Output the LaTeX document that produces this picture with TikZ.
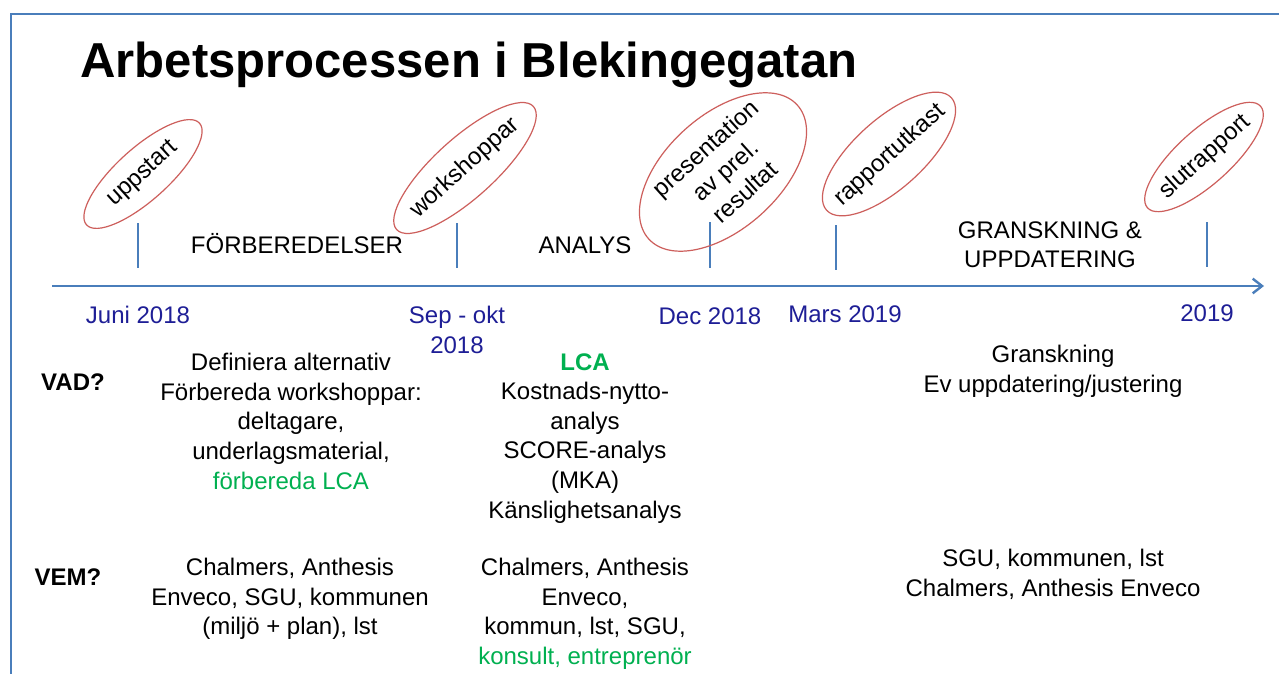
\documentclass[tikz,border=0pt]{standalone}
\usepackage{fontspec}
\setmainfont{Liberation Sans}
\usetikzlibrary{shapes.geometric,arrows.meta}
\definecolor{axisblue}{RGB}{74,126,187}
\definecolor{datenavy}{RGB}{30,30,150}
\definecolor{lcagreen}{RGB}{0,176,80}
\definecolor{ovalred}{RGB}{205,95,92}
\begin{document}
\begin{tikzpicture}[x=0.75pt,y=-0.75pt,
  txt/.style={font=\fontsize{18}{22.2}\selectfont, inner sep=0, align=center},
  datetxt/.style={txt, text=datenavy},
  headtxt/.style={font=\bfseries\fontsize{18}{22.2}\selectfont, inner sep=0},
  ovalshape/.style={ellipse, draw=ovalred, line width=0.9pt, inner sep=0, rotate=42},
  ovaltext/.style={txt, rotate=42},
  tickline/.style={draw=axisblue, line width=1.6pt},
  axisline/.style={draw=axisblue, line width=2.1pt,
    -{Straight Barb[length=7pt,width=11pt,line width=1.8pt]}},
  frameline/.style={draw=axisblue, line width=1.5pt}]
\useasboundingbox (0,0) rectangle (1279,674);
\clip (0,0) rectangle (1279,674);
\fill[white] (0,0) rectangle (1279,674);
% frame
\draw[frameline] (11,700) -- (11,14) -- (1300,14);
% title
\node[anchor=base west, inner sep=0, font=\bfseries\fontsize{36.8}{40}\selectfont] (title) at (80,78) {Arbetsprocessen i Blekingegatan};
% axis
\coordinate (axstart) at (52,286);
\coordinate (axend) at (1264,286);
\draw[axisline] (axstart) -- (axend);
% ticks
\foreach \n/\x/\ya/\yb in {t1/138/223/268, t2/457/223/268, t3/710/222/268, t4/836/225/270, t5/1207/222/267}{
  \coordinate (\n a) at (\x,\ya);
  \coordinate (\n b) at (\x,\yb);
  \draw[tickline] (\n a) -- (\n b);
}
% milestone ovals
\node[ovalshape, minimum width=114pt, minimum height=39pt] (uppstartoval) at (143,174) {};
\node[ovaltext] (uppstart) at (143,174) {uppstart};
\node[ovalshape, minimum width=138pt, minimum height=45pt] (workshopoval) at (465,168) {};
\node[ovaltext] (workshop) at (465,168) {workshoppar};
\node[ovalshape, minimum width=150pt, minimum height=85.5pt] (presentoval) at (723,172) {};
\node[ovaltext] (present) at (725,170) {presentation\\av prel.\\resultat};
\node[ovalshape, minimum width=126pt, minimum height=52pt] (rapportoval) at (889,154) {};
\node[ovaltext] (rapport) at (890,155) {rapportutkast};
\node[ovalshape, minimum width=114pt, minimum height=40.5pt] (slutoval) at (1204,157) {};
\node[ovaltext] (slut) at (1205,157) {slutrapport};
% phases
\node[txt, anchor=base] (forb) at (297,253) {FÖRBEREDELSER};
\node[txt, anchor=base] (analys) at (585,253) {ANALYS};
\node[txt, anchor=north] (gransk) at (1050,221) {GRANSKNING \&\\UPPDATERING};
% dates
\node[datetxt, anchor=base] (d1) at (138,323) {Juni 2018};
\node[datetxt, anchor=north] (d2) at (457,306) {Sep - okt\\2018};
\node[datetxt, anchor=base] (d3) at (710,324) {Dec 2018};
\node[datetxt, anchor=base] (d4) at (845,322) {Mars 2019};
\node[datetxt, anchor=base] (d5) at (1207,321) {2019};
% row heads
\node[headtxt, anchor=base] (vad) at (73,390) {VAD?};
\node[headtxt, anchor=base] (vem) at (68,585) {VEM?};
% VAD contents
\node[txt, anchor=north] (vad1) at (291,353) {Definiera alternativ\\Förbereda workshoppar:\\deltagare,\\underlagsmaterial,\\\textcolor{lcagreen}{förbereda LCA}};
\node[txt, anchor=north] (vad2) at (585,353) {\textcolor{lcagreen}{\bfseries LCA}\\Kostnads-nytto-\\analys\\SCORE-analys\\(MKA)\\Känslighetsanalys};
\node[txt, anchor=north] (vad3) at (1053,345) {Granskning\\Ev uppdatering/justering};
% VEM contents
\node[txt, anchor=north] (vem1) at (290,558) {Chalmers, Anthesis\\Enveco, SGU, kommunen\\(miljö + plan), lst};
\node[txt, anchor=north] (vem2) at (585,558) {Chalmers, Anthesis\\Enveco,\\kommun, lst, SGU,\\\textcolor{lcagreen}{konsult, entreprenör}};
\node[txt, anchor=north] (vem3) at (1053,549) {SGU, kommunen, lst\\Chalmers, Anthesis Enveco};
\end{tikzpicture}
\end{document}
